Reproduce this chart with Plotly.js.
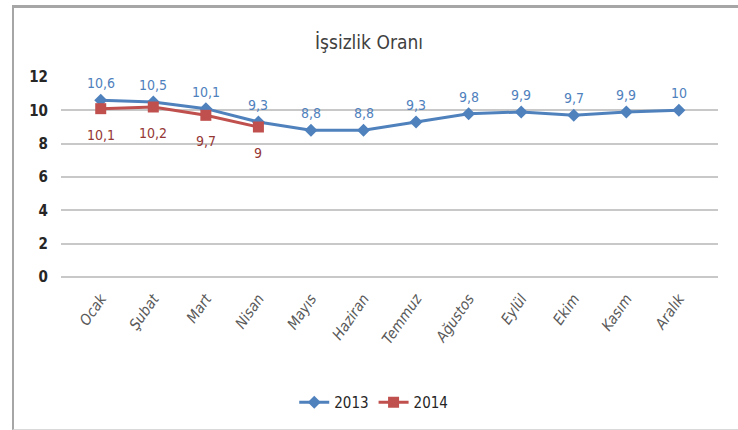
<!DOCTYPE html>
<html>
<head>
<meta charset="utf-8">
<script src="https://cdn.plot.ly/plotly-3.0.1.min.js"></script>
<style>
  body { margin: 0; background: #fff; }
  #chart { width: 738px; height: 430px; }
  #frame {
    position: absolute; left: 12px; top: 5px; width: 740px; height: 421px;
    border-left: 2px solid #a6a6a6; border-top: 3px solid #a6a6a6; border-bottom: 1px solid #d9d9d9;
    pointer-events: none;
  }
</style>
</head>
<body>
<div id="chart"></div>
<div id="frame"></div>
<script>
const months = ['Ocak', 'Şubat', 'Mart', 'Nisan', 'Mayıs', 'Haziran', 'Temmuz', 'Ağustos', 'Eylül', 'Ekim', 'Kasım', 'Aralık'];
const rate2013 = [10.6, 10.5, 10.1, 9.3, 8.8, 8.8, 9.3, 9.8, 9.9, 9.7, 9.9, 10];
const rate2014 = [10.1, 10.2, 9.7, 9];
const yTicks = [0, 2, 4, 6, 8, 10, 12];

const FONT = '"DejaVu Sans Condensed", "Liberation Sans Narrow", "Liberation Sans", sans-serif';
const fmt = (v) => String(v).replace('.', ',');

const traces = [
  {
    name: '2013',
    x: months,
    y: rate2013,
    mode: 'lines+markers',
    line: { color: '#4f81bd', width: 3 },
    marker: { symbol: 'diamond', size: 10, color: '#4f81bd' },
  },
  {
    name: '2014',
    x: months.slice(0, rate2014.length),
    y: rate2014,
    mode: 'lines+markers',
    line: { color: '#c0504d', width: 3 },
    marker: { symbol: 'square', size: 11, color: '#c0504d' },
  },
];

// data labels: 2013 above, 2014 below
const labels = [];
rate2013.forEach((v, i) => {
  labels.push({
    x: months[i], y: v, text: fmt(v), showarrow: false, yshift: 17,
    font: { family: FONT, size: 14, color: '#4f81bd' },
  });
});
rate2014.forEach((v, i) => {
  labels.push({
    x: months[i], y: v, text: fmt(v), showarrow: false, yshift: -26,
    font: { family: FONT, size: 14, color: '#953735' },
  });
});

const layout = {
  width: 738,
  height: 430,
  margin: { l: 61, r: 20, t: 77, b: 152 },
  paper_bgcolor: '#fff',
  plot_bgcolor: '#fff',
  font: { family: FONT, color: '#404040' },
  title: {
    text: 'İşsizlik Oranı',
    font: { family: FONT, size: 19, color: '#404040' },
    x: 0.5, xanchor: 'center', y: 0.902, yanchor: 'middle',
  },
  xaxis: {
    type: 'category',
    tickangle: -55,
    tickfont: { family: FONT, size: 15, color: '#595959', style: 'italic' },
    showgrid: false,
    showline: false,
    ticks: '',
    ticklabelstandoff: 9,
  },
  yaxis: {
    range: [0, 12],
    tickvals: yTicks,
    ticktext: yTicks.map(String),
    tickfont: { family: FONT, size: 15, color: '#262626', weight: 'bold' },
    showgrid: true,
    gridcolor: '#c8c8c8',
    gridwidth: 2,
    zeroline: true,
    zerolinecolor: '#c8c8c8',
    zerolinewidth: 2,
    showline: false,
    ticks: '',
    ticklabelstandoff: 12,
  },
  showlegend: true,
  legend: {
    orientation: 'h',
    x: 0.476, xanchor: 'center',
    y: -0.62, yanchor: 'middle',
    font: { family: FONT, size: 15, color: '#262626' },
    itemwidth: 30,
  },
  annotations: labels,
};

Plotly.newPlot('chart', traces, layout, { displayModeBar: false, staticPlot: true });
</script>
</body>
</html>
